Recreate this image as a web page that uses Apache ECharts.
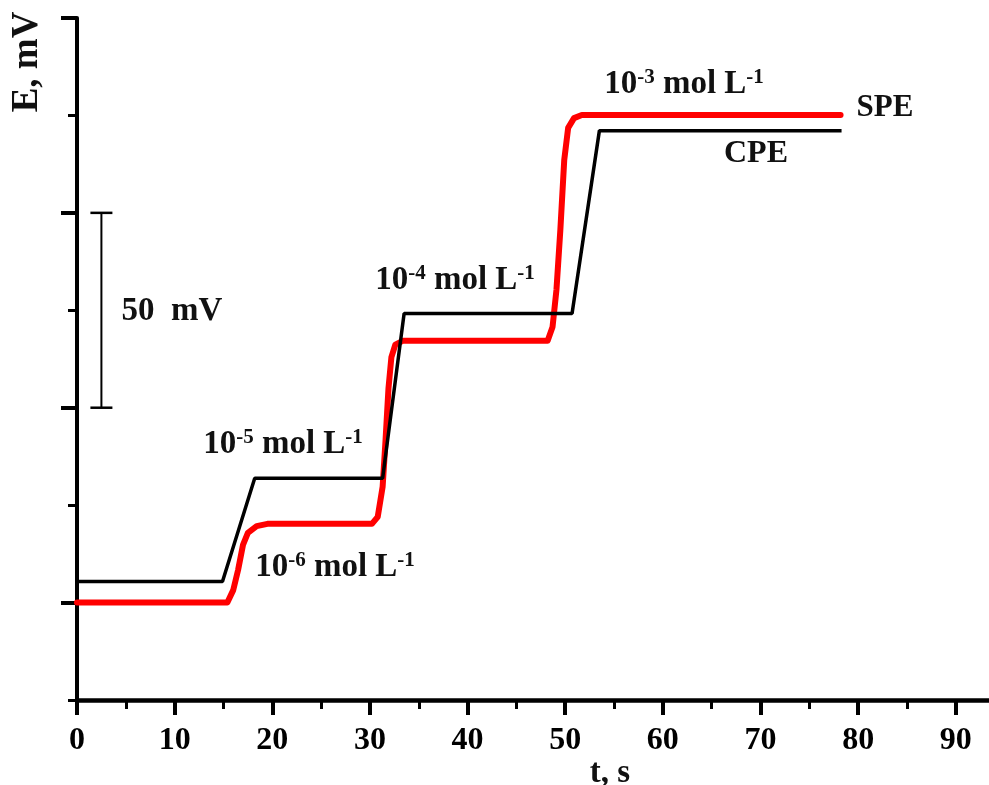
<!DOCTYPE html>
<html>
<head>
<meta charset="utf-8">
<script src="https://cdn.jsdelivr.net/npm/echarts@6/dist/echarts.min.js"></script>
<style>
  html, body { margin: 0; padding: 0; background: #fff; }
  #main { width: 989px; height: 785px; }
</style>
</head>
<body>
<div id="main"></div>
<script>
// time (s) and potential (mV, arbitrary offset)
var speTime = [0, 15.4, 16.0, 16.5, 17.0, 17.5, 18.4, 19.5, 30.2, 30.8, 31.3, 31.6, 31.9, 32.2, 32.6, 33.4, 48.2, 48.7, 49.1, 49.5, 49.9, 50.3, 50.9, 51.7, 78.2];
var speE    = [25, 25, 28.2, 33.4, 39.8, 42.9, 44.6, 45.2, 45.2, 47.0, 54.7, 66.7, 80.0, 88.0, 91.2, 92.2, 92.2, 95.7, 105.2, 120.6, 138.6, 146.8, 149.3, 150.1, 150.1];

var cpeTime = [0, 14.9, 18.2, 31.3, 33.5, 50.7, 53.5, 78.3];
var cpeE    = [30.4, 30.4, 56.9, 56.9, 99.2, 99.2, 146.1, 146.1];

// 50 mV scale bar
var barTime = [2.5, 2.5];
var barE    = [75, 125];

var timeTicks  = [0, 10, 20, 30, 40, 50, 60, 70, 80, 90];
var timeMinor  = [5, 15, 25, 35, 45, 55, 65, 75, 85];
var eMajor     = [25, 75, 125, 175];
var eMinor     = [0, 50, 100, 150];

function pairs(xs, ys) {
  var out = [];
  for (var i = 0; i < xs.length; i++) out.push([xs[i], ys[i]]);
  return out;
}

var serif = '"Liberation Serif", "DejaVu Serif", serif';
var rich = {
  sup: { fontFamily: serif, fontWeight: 'bold', fontSize: 21, verticalAlign: 'top', color: '#111' }
};

function note(x, y, text, size) {
  return {
    type: 'text', x: x, y: y,
    style: {
      text: text,
      fontFamily: serif, fontWeight: 'bold', fontSize: size || 28,
      fill: '#111',
      align: 'center', verticalAlign: 'middle',
      textAlign: 'center', textVerticalAlign: 'middle',
      rich: rich
    }
  };
}

var chart = echarts.init(document.getElementById('main'));
var option = {
  animation: false,
  backgroundColor: '#fff',
  grid: { left: 77, right: 0, top: 18, bottom: 85, containLabel: false },
  xAxis: [
    {
      type: 'value', min: 0, max: 93.4,
      axisLine: { show: true, onZero: false, lineStyle: { color: '#000', width: 4.5 } },
      axisTick: { show: true, customValues: timeTicks, length: 15, lineStyle: { color: '#000', width: 4 } },
      axisLabel: { customValues: timeTicks, margin: 25, color: '#000', fontFamily: serif, fontWeight: 'bold', fontSize: 32 },
      splitLine: { show: false }
    },
    {
      type: 'value', min: 0, max: 93.4, position: 'bottom',
      axisLine: { show: false },
      axisTick: { show: true, customValues: timeMinor, length: 9, lineStyle: { color: '#000', width: 3 } },
      axisLabel: { show: false },
      splitLine: { show: false }
    }
  ],
  yAxis: [
    {
      type: 'value', min: 0, max: 175,
      axisLine: { show: true, onZero: false, lineStyle: { color: '#000', width: 4 } },
      axisTick: { show: true, customValues: eMajor, length: 16, lineStyle: { color: '#000', width: 4 } },
      axisLabel: { show: false },
      splitLine: { show: false }
    },
    {
      type: 'value', min: 0, max: 175, position: 'left',
      axisLine: { show: false },
      axisTick: { show: true, customValues: eMinor, length: 9, lineStyle: { color: '#000', width: 3 } },
      axisLabel: { show: false },
      splitLine: { show: false }
    }
  ],
  series: [
    {
      name: 'SPE', type: 'line',
      data: pairs(speTime, speE),
      showSymbol: false, smooth: false,
      lineStyle: { color: '#ff0000', width: 6, join: 'round', cap: 'round' }
    },
    {
      name: 'CPE', type: 'line',
      data: pairs(cpeTime, cpeE),
      showSymbol: false,
      lineStyle: { color: '#000', width: 3.5 }
    },
    {
      name: 'scale', type: 'line',
      data: pairs(barTime, barE),
      symbol: 'rect', symbolSize: [22, 2.5], showSymbol: true,
      itemStyle: { color: '#000' },
      lineStyle: { color: '#000', width: 2 }
    }
  ],
  graphic: [
    note(684, 84, '10{sup|-3} mol L{sup|-1}', 33),
    note(455, 280, '10{sup|-4} mol L{sup|-1}', 33),
    note(283, 444, '10{sup|-5} mol L{sup|-1}', 33),
    note(335, 567, '10{sup|-6} mol L{sup|-1}', 33),
    note(885, 108, 'SPE', 31),
    note(756, 154, 'CPE', 32),
    note(172, 311, '50  mV', 33),
    note(610, 773, 't, s', 33),
    {
      type: 'text', x: 27, y: 62, rotation: Math.PI / 2,
      style: {
        text: 'E, mV', fontFamily: serif, fontWeight: 'bold', fontSize: 37, fill: '#111',
        align: 'center', verticalAlign: 'middle', textAlign: 'center', textVerticalAlign: 'middle'
      }
    }
  ]
};
chart.setOption(option);
</script>
</body>
</html>
